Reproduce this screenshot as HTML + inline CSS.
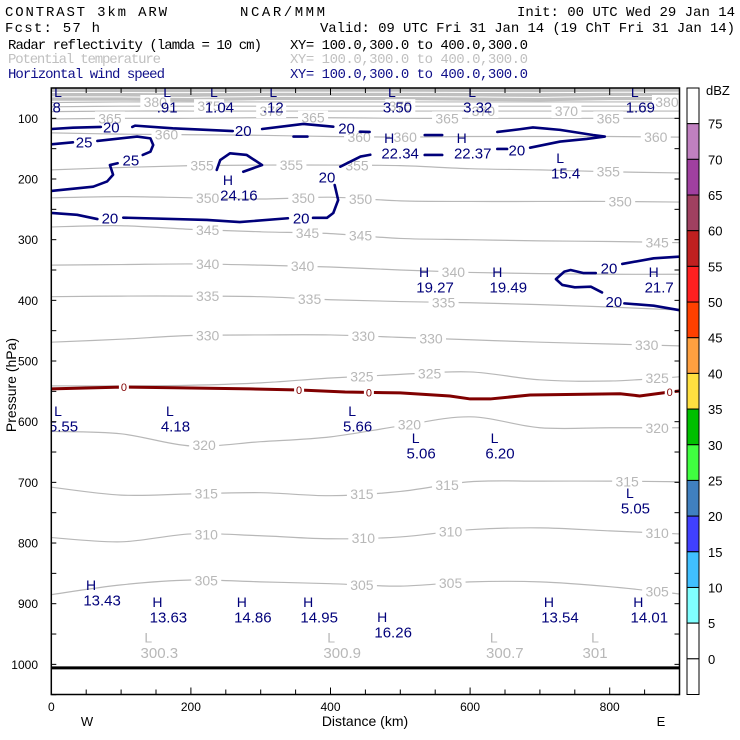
<!DOCTYPE html>
<html><head><meta charset="utf-8"><style>
html,body{margin:0;padding:0;background:#fff;}
svg{display:block;}
text{font-family:"Liberation Sans",sans-serif;}
.mono{font-family:"Liberation Mono",monospace;}
</style></head><body>
<svg id="chart" width="740" height="740" viewBox="0 0 740 740" xmlns="http://www.w3.org/2000/svg">
<defs><clipPath id="plotclip"><rect x="51.3" y="88" width="628.2" height="606.5"/></clipPath></defs>
<g>
<text class="mono" x="5" y="16" font-size="14" textLength="162">CONTRAST  3km ARW</text>
<text class="mono" x="240" y="16" font-size="14" textLength="85">NCAR/MMM</text>
<text class="mono" x="517" y="16" font-size="14" textLength="218">Init: 00 UTC Wed 29 Jan 14</text>
<text class="mono" x="5" y="32" font-size="14" textLength="95">Fcst:   57 h</text>
<text class="mono" x="320" y="32" font-size="14" textLength="415">Valid: 09 UTC Fri 31 Jan 14 (19 ChT Fri 31 Jan 14)</text>
<text class="mono" x="8" y="49" font-size="14" textLength="254">Radar reflectivity (lamda = 10 cm)</text>
<text class="mono" x="290" y="49" font-size="14" textLength="238">XY=  100.0,300.0 to 400.0,300.0</text>
<text class="mono" x="8" y="63" font-size="14" fill="#c0c0c0" textLength="153">Potential temperature</text>
<text class="mono" x="290" y="63" font-size="14" fill="#c0c0c0" textLength="238">XY=  100.0,300.0 to 400.0,300.0</text>
<text class="mono" x="8" y="78" font-size="14" fill="#10108a" textLength="157">Horizontal wind speed</text>
<text class="mono" x="290" y="78" font-size="14" fill="#10108a" textLength="238">XY=  100.0,300.0 to 400.0,300.0</text>
</g>
<g id="plot" clip-path="url(#plotclip)"></g>
<g id="axes"></g>
<g id="cbar"></g>
</svg>
<script>
// ---- data ----
const gridKm = [0,100,200,300,400,500,600,700,800,900];
const thetaLevels = [305,310,315,320,325,330,335,340,345,350,355,360,365,370,375,380];
const theta305 = [885,869,861,864,867,871,864,864,872,884];
const theta310 = [791,798,785,788,793,790,778,775,780,785];
const theta315 = [708,721,719,717,722,715,699,698,698,699];
const theta320 = [616,620,640,633,625,607,592,610,610,610];
const theta325 = [541,541,540,536,528,522,518,531,533,526];
const theta330 = [469,464,458,457,457,461,465,469,472,475];
const theta335 = [394,393,393,394,399,402,404,407,411,416];
const theta340 = [342,341,340,342,345,350,354,356,357,357];
const theta345 = [279,277,283,287,290,298,300,302,303,305];
const theta350 = [231,229,231,233,230,236,237,237,237,238];
const theta355 = [185,181,178,177,177,178,183,185,188,190];
const theta360 = [124,126,127,128,130,131,130,130,130,131];
const theta365 = [101,100,100,99,99,100,100,100,100,100];
const theta370 = [89,88,88,88,88,88,88,88,88,88];
const theta375 = [81,80,80,80,80,80,80,80,80,80];
const theta380 = [74,73,73,73,73,73,73,73,73,73];
const stratoBand = [71,71,72,70,70,70,71,72,70,70];
const thetaLabelLevel = [305,305,305,305,310,310,310,310,315,315,315,315,320,320,320,325,325,325,330,330,330,330,335,335,335,340,340,340,345,345,345,345,350,350,350,350,355,355,355,355,360,360,360,360,365,365,365,365,370,370,370,375,375,380,380];
const thetaLabelKm = [222,445,572,868,222,447,572,868,222,445,567,825,219,513,868,445,542,868,224,447,544,853,224,370,562,224,360,576,224,367,443,868,224,361,443,815,216,344,438,798,165,441,507,866,84,375,567,798,315,619,738,226,500,149,882];
const zeroKm = [0,99,177,285,356,421,500,571,600,629,686,815,843,886,900];
const zeroP = [546,543,544,546,547.7,551,552.6,557.6,562.5,562.5,556,554,557.6,551,549.5];
const zeroLabelKm = [104,355,455,886];
const surfaceP = 1005.8;
// wind-speed contour segments: [km, hPa]
const windSegKm = [
 [0,31,71],[116,120,174,260],[302,361,404],[442,456],[347,367],[535,560],[535,560],
 [639,671,690,729,776,793,767,729,686],[639,653],
 [457,443,414],[406,411,404,395,375],[339,270,223,103],[66,37,0],
 [0,31],[66,123,142,146,142,131],[95,84,88.5,80,60,0],
 [237,242,256,280,302,275],
 [899,863,818],[780,762,744,735,723,732,750,773,789],[821,863,899]];
const windSegP = [
 [117.6,115.4,114.2],[114.2,112,116.4,121],[117.6,109.3,113.8],[122,122.5],[130,130],[127.5,127.5],[160.4,160.4],
 [122.4,118,115,119,127.5,130,134,138.3,148.4],[150.5,150.5],
 [160,163,179.7],[210,234.6,256,264,264],[264.7,271,267.5,263.7],[266,259,256],
 [142.8,139.5],[137.3,130,133,144,155,160.4],[174,177,193,204,212.7,219.7],
 [185,168.7,157.6,160.4,177,188],
 [328,330.7,340],[355,355,350,352.7,365,374.6,378.5,377.5,387],[405,408.8,416]];
const windLabelKm = [86,275,423,667,395,358,84,47,114,799,806];
const windLabelP = [114.5,120,116,152,196.6,264,264,139,168.7,346.6,402];
const windLabelText = ["20","20","20","20","20","20","20","25","25","20","20"];
const hlLetter = ["L","L","L","L","L","L","L","H","H","L","H","H","H","H","L","L","L","L","L","L","H","H","H","H","H","H","H","L","L","L","L"];
const hlText = ["48",".91","1.04",".12","3.50","3.32","1.69","22.34","22.37","15.4","24.16","19.27","19.49","21.7","5.55","4.18","5.66","5.06","6.20","5.05","13.43","13.63","14.86","14.95","16.26","13.54","14.01","300.3","300.9","300.7","301"];
const hlKm = [9.6,166,233,318,488,603,836,484,588,729,253,534,639,863,9.6,170,431,522,635,829,57,152,273,368,474,713,841,139,401,634,779];
const hlP = [56.6,56.6,56.6,56.6,56.6,56.6,56.6,132.4,132.4,165.4,201.6,353,353,353,582,582,582,627,627,717.5,869,897,897,897,922,897,897,956,956,956,956];
const hlGray = [0,0,0,0,0,0,0,0,0,0,0,0,0,0,0,0,0,0,0,0,0,0,0,0,0,0,0,1,1,1,1];
const pTicks = [100,200,300,400,500,600,700,800,900,1000];
const kmTicks = [0,200,400,600,800];
const cbLevels = ["75","70","65","60","55","50","45","40","35","30","25","20","15","10","5","0"];
const cbColors = ["#ffffff","#c080c0","#a040a0","#a04060","#c02020","#ff2020","#ff4000","#ffa040","#ffe040","#00c000","#40ff40","#4080c0","#4040ff","#40c0ff","#80ffff","#ffffff","#ffffff"];

// ---- axes functions ----
const X = km => 51.3 + km*0.698;
const Y = p => 88 + (p-50)*0.6067;
const NS = "http://www.w3.org/2000/svg";
const plot = document.getElementById('plot');
const axes = document.getElementById('axes');
const cbar = document.getElementById('cbar');
function mk(tag, attrs, parent){const e=document.createElementNS(NS,tag);for(const k in attrs)e.setAttribute(k,attrs[k]);parent.appendChild(e);return e;}
function smooth(pts){let d=`M${pts[0][0]},${pts[0][1]}`;for(let i=0;i<pts.length-1;i++){const p0=pts[Math.max(0,i-1)],p1=pts[i],p2=pts[i+1],p3=pts[Math.min(pts.length-1,i+2)];
 const c1=[p1[0]+(p2[0]-p0[0])/6,p1[1]+(p2[1]-p0[1])/6],c2=[p2[0]-(p3[0]-p1[0])/6,p2[1]-(p3[1]-p1[1])/6];d+=` C${c1[0]},${c1[1]} ${c2[0]},${c2[1]} ${p2[0]},${p2[1]}`;}return d;}
function interp(arr,km){const i=Math.min(8,Math.max(0,Math.floor(km/100)));const t=(km-gridKm[i])/100;return arr[i]*(1-t)+arr[i+1]*t;}
const thetaSeries = {305:theta305,310:theta310,315:theta315,320:theta320,325:theta325,330:theta330,335:theta335,340:theta340,345:theta345,350:theta350,355:theta355,360:theta360,365:theta365,370:theta370,375:theta375,380:theta380};

// strat band fill
{const pts=gridKm.map((k,i)=>[X(k),Y(stratoBand[i])]);
 const e=mk('path',{d:`M${X(0)},88 L`+pts.map(p=>p.join(',')).join(' L')+` L${X(900)},88 Z`,fill:'#c0c0c0'},plot);
 
 
 [0.35,0.7].forEach(f=>{const w=mk('path',{d:smooth(gridKm.map((k,i)=>[X(k),88+(Y(stratoBand[i])-88)*f])),fill:'none',stroke:'#fff','stroke-width':1},plot);
  
  });}

// theta contours
thetaLevels.forEach(lv=>{const arr=thetaSeries[lv];
 const e=mk('path',{d:smooth(gridKm.map((k,i)=>[X(k),Y(arr[i])])),fill:'none',stroke:'#b8b8b8','stroke-width':1.2},plot);
 
 });
thetaLabelLevel.forEach((lv,i)=>{const km=thetaLabelKm[i];const y=Y(interp(thetaSeries[lv],km));
 const r=mk('rect',{x:X(km)-15,y:y-7,width:30,height:14,fill:'#fff'},plot);
 
 
 const t=mk('text',{x:X(km),y:y+5,'font-size':14,fill:'#b8b8b8','text-anchor':'middle'},plot);
 t.textContent=String(lv);
 
 });

// zero dBZ contour
{const e=mk('path',{d:'M'+zeroKm.map((k,i)=>X(k)+','+Y(zeroP[i])).join(' L'),fill:'none',stroke:'#800000','stroke-width':3},plot);
 
 
 zeroLabelKm.forEach(km=>{let j=0;while(j<zeroKm.length-2&&zeroKm[j+1]<km)j++;const t0=(km-zeroKm[j])/(zeroKm[j+1]-zeroKm[j]);const y=Y(zeroP[j]*(1-t0)+zeroP[j+1]*t0);
  const r=mk('rect',{x:X(km)-5,y:y-5,width:10,height:10,fill:'#fff'},plot);
  
  
  const t=mk('text',{x:X(km),y:y+4,'font-size':11,fill:'#800000','text-anchor':'middle'},plot);
  t.textContent='0';
  
  });}

// wind contours
windSegKm.forEach((seg,s)=>{const d='M'+seg.map((k,i)=>X(k)+','+Y(windSegP[s][i])).join(' L');
 const e=mk('path',{d:d,fill:'none',stroke:'#00007a','stroke-width':2.6,'stroke-linejoin':'round','stroke-linecap':'round'},plot);
 
 });
windLabelKm.forEach((km,i)=>{const t=mk('text',{x:X(km),y:Y(windLabelP[i])+5.5,'font-size':15,fill:'#00007a','text-anchor':'middle'},plot);
 t.textContent=windLabelText[i];
 
 });

// surface
{const e=mk('line',{x1:X(0),x2:X(900),y1:Y(surfaceP),y2:Y(surfaceP),stroke:'#000','stroke-width':3},plot);
 
 }

// H/L markers
hlLetter.forEach((L,i)=>{const col=hlGray[i]?'#b8b8b8':'#00007a';const x=X(hlKm[i]),y=Y(hlP[i]);
 const a=mk('text',{x:x,y:y+5,'font-size':14,fill:col,'text-anchor':'middle'},plot);
 a.textContent=L;
 
 
 const b=mk('text',{x:x+(hlText[i].length-3)*5.5,y:y+20.5,'font-size':15,fill:col,'text-anchor':'middle'},plot);
 b.textContent=hlText[i];
 
 });

// frame + ticks
{const f=mk('rect',{x:51.3,y:88,width:628.2,height:606.5,fill:'none',stroke:'#000','stroke-width':1.5},axes);
 
 }
for(let p=100;p<=1050;p+=50){const y=Y(p);const len=5;
 [[51.3,51.3+len],[679.5,679.5-len]].forEach(([a,b])=>{const l=mk('line',{x1:a,x2:b,y1:y,y2:y,stroke:'#000','stroke-width':1},axes);
  
  });}
pTicks.forEach(p=>{const t=mk('text',{x:38,y:Y(p)+4.5,'font-size':12,'text-anchor':'end'},axes);
 t.textContent=String(p);
 
 });
for(let k=50;k<900;k+=50){const x=X(k);const len=(k%200===0)?7:5;
 [[694.5,694.5-len],[88,88+len]].forEach(([a,b])=>{const l=mk('line',{x1:x,x2:x,y1:a,y2:b,stroke:'#000','stroke-width':1},axes);
  
  });}
kmTicks.forEach(k=>{const t=mk('text',{x:X(k),y:711,'font-size':12,'text-anchor':'middle'},axes);
 t.textContent=String(k);
 
 });
{const t=mk('text',{x:365,y:726,'font-size':14,'text-anchor':'middle'},axes);t.textContent='Distance (km)';
 
 
 const w=mk('text',{x:87,y:726,'font-size':13,'text-anchor':'middle'},axes);w.textContent='W';
 
 
 const e=mk('text',{x:661,y:726,'font-size':13,'text-anchor':'middle'},axes);e.textContent='E';
 
 
 const yt=mk('text',{x:0,y:0,'font-size':14,'text-anchor':'middle',transform:'translate(16,385) rotate(-90)'},axes);yt.textContent='Pressure (hPa)';
 
 }

// colorbar
const bh = 606.5/cbColors.length;
cbColors.forEach((c,i)=>{const r=mk('rect',{x:687,y:88+i*bh,width:12,height:bh,fill:c,stroke:'#000','stroke-width':1},cbar);
 
 });
cbLevels.forEach((lv,i)=>{const t=mk('text',{x:708,y:88+(i+1)*bh+5,'font-size':13},cbar);
 t.textContent=lv;
 
 });
{const t=mk('text',{x:706,y:95,'font-size':13},cbar);t.textContent='dBZ';
 
 }
</script>
</body></html>
